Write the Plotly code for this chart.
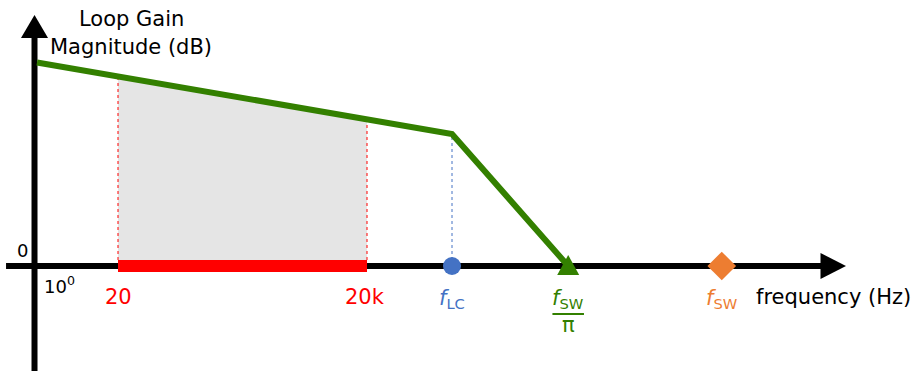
import plotly.graph_objects as go

# Schematic loop-gain magnitude sketch (log-frequency position vs. dB)
loop_pos = [0.0, 0.976, 3.976, 5.0, 6.4]          # start, 20 Hz, 20 kHz, f_LC, f_SW/pi
loop_db = [101.75, 94.75, 73.3, 66.0, 0.0]

band_labels = ["20", "20k"]
band_pos = [0.976, 3.976]
band_db = [94.75, 73.3]

lc_pos, lc_db = 5.0, 66.0
fsw_pi_pos = 6.4
fsw_pos = 8.25

GREEN = "#338000"
BLUE = "#4472c4"
ORANGE = "#ed7d31"
RED = "#ff0000"
FONT = "DejaVu Sans"

PX_X = 83.0   # pixels per x unit
PX_Y = 2.0    # pixels per dB

fig = go.Figure()

# shaded audio band under the loop gain
fig.add_trace(go.Scatter(
    x=[band_pos[0], band_pos[0], band_pos[1], band_pos[1]],
    y=[0, band_db[0], band_db[1], 0],
    fill="toself", fillcolor="#e5e5e5", line=dict(width=0),
    mode="lines", hoverinfo="skip"))

# red audio-band bar on the frequency axis
fig.add_trace(go.Scatter(
    x=[band_pos[0], band_pos[1], band_pos[1], band_pos[0]],
    y=[-3, -3, 3, 3],
    fill="toself", fillcolor=RED, line=dict(width=0),
    mode="lines", hoverinfo="skip"))

# dotted drop lines
for p, d in zip(band_pos, band_db):
    fig.add_trace(go.Scatter(x=[p, p], y=[3, d], mode="lines",
                             line=dict(color=RED, width=1, dash="dot")))
fig.add_trace(go.Scatter(x=[lc_pos, lc_pos], y=[0, lc_db], mode="lines",
                         line=dict(color=BLUE, width=1, dash="dot")))

# loop gain asymptote
fig.add_trace(go.Scatter(x=loop_pos, y=loop_db, mode="lines",
                         line=dict(color=GREEN, width=6)))

# characteristic frequencies
fig.add_trace(go.Scatter(x=[lc_pos], y=[0], mode="markers",
                         marker=dict(symbol="circle", size=18, color=BLUE)))
# equilateral-ish triangle at f_SW/pi (22 px wide, 20 px tall)
hw = 11 / PX_X
fig.add_trace(go.Scatter(
    x=[fsw_pi_pos - hw, fsw_pi_pos, fsw_pi_pos + hw],
    y=[-9 / PX_Y, 11 / PX_Y, -9 / PX_Y],
    fill="toself", fillcolor=GREEN, line=dict(width=0),
    mode="lines", hoverinfo="skip"))
fig.add_trace(go.Scatter(x=[fsw_pos], y=[0], mode="markers",
                         marker=dict(symbol="diamond", size=22, color=ORANGE)))

# axes with arrowheads
ax_x = -0.03
shapes = [
    dict(type="line", xref="x", yref="y", x0=-0.373, x1=9.47, y0=0, y1=0,
         line=dict(color="black", width=6), layer="below"),
    dict(type="path", xref="x", yref="y",
         path="M 9.44 6.5 L 9.747 0 L 9.44 -6.5 Z",
         fillcolor="black", line=dict(width=0), layer="below"),
    dict(type="line", xref="x", yref="y", x0=ax_x, x1=ax_x, y0=-53, y1=114.5,
         line=dict(color="black", width=6), layer="below"),
    dict(type="path", xref="x", yref="y",
         path=f"M {ax_x-0.163} 114 L {ax_x} 125.5 L {ax_x+0.163} 114 Z",
         fillcolor="black", line=dict(width=0), layer="below"),
    # fraction bar of f_SW / pi
    dict(type="line", xref="x", yref="y", x0=fsw_pi_pos - 0.19, x1=fsw_pi_pos + 0.19,
         y0=-24, y1=-24, line=dict(color=GREEN, width=2)),
]

def note(x, y, text, color="black", size=21, xanchor="center"):
    return dict(x=x, y=y, xref="x", yref="y", text=text, showarrow=False,
                xanchor=xanchor, yanchor="middle",
                font=dict(family=FONT, size=size, color=color))

annotations = [
    note(1.133, 123.5, "Loop Gain"),
    note(1.133, 109.5, "Magnitude (dB)"),
    note(-0.18, 7.75, "0", size=18),
    note(0.06, -9.5, "10<sup>0</sup>", size=18, xanchor="left"),
    note(band_pos[0], -15.5, band_labels[0], RED),
    note(band_pos[1] - 0.02, -15.5, band_labels[1], RED),
    note(lc_pos, -16.5, "<i>f</i><sub>LC</sub>", BLUE),
    note(fsw_pi_pos, -16.5, "<i>f</i><sub>SW</sub>", GREEN),
    note(fsw_pi_pos, -29.5, "π", GREEN),
    note(fsw_pos, -16.5, "<i>f</i><sub>SW</sub>", ORANGE),
    note(8.64, -15.5, "frequency (Hz)"),
]
annotations[-1]["xanchor"] = "left"

fig.update_layout(
    width=920, height=371,
    margin=dict(l=0, r=0, t=0, b=0),
    paper_bgcolor="white", plot_bgcolor="white",
    showlegend=False,
    xaxis=dict(range=[-37 / PX_X, 883 / PX_X], visible=False, fixedrange=True),
    yaxis=dict(range=[-105 / PX_Y, 266 / PX_Y], visible=False, fixedrange=True),
    shapes=shapes, annotations=annotations,
)

fig.write_html("out.html")
